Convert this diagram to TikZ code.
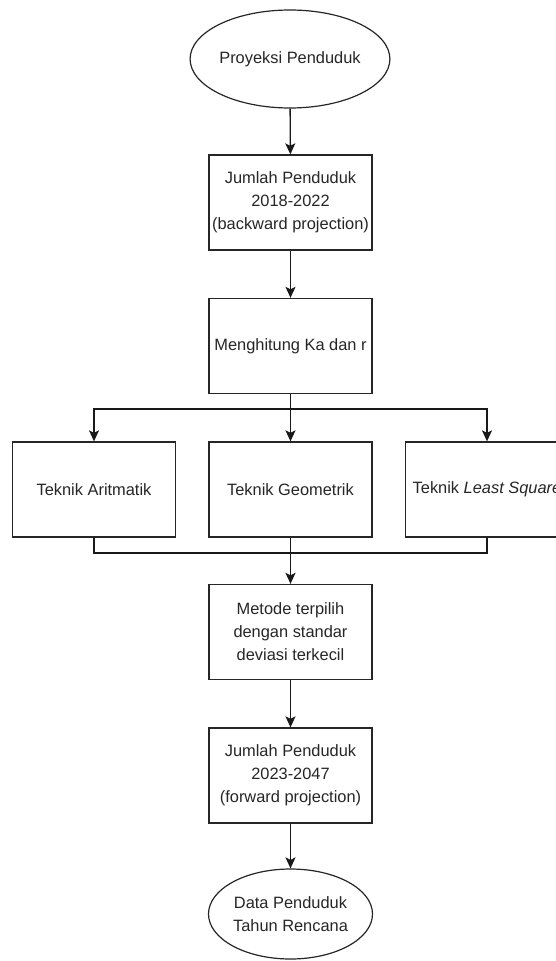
\documentclass[tikz,border=0pt]{standalone}
\usepackage{fontspec}
\setmainfont{Liberation Sans}
\usetikzlibrary{shapes.geometric,arrows.meta}
\begin{document}
\begin{tikzpicture}[x=1pt,y=-1pt,
  every node/.style={font=\fontsize{16.4}{23}\selectfont, align=center, text=black!85},
  terminal/.style={ellipse, draw=black!85, line width=1.2pt, minimum width=164pt, minimum height=98pt, inner sep=0pt},
  procbox/.style={rectangle, draw=black!85, line width=1.3pt, minimum width=163pt, minimum height=95pt, inner sep=0pt},
  link/.style={draw=black!90, line width=1.4pt},
  arrow/.style={link, -{Stealth[length=11pt,width=10pt,inset=2.5pt]}}]
\clip (0,0) rectangle (556,961);
\fill[white] (0,0) rectangle (556,961);

\node[terminal] (start) at (290,59) {Proyeksi Penduduk};
\node[procbox] (back) at (290.5,202.5) {Jumlah Penduduk\\2018-2022\\(backward projection)};
\node[procbox] (calc) at (290.5,346) {Menghitung Ka dan r};
\node[procbox] (ar) at (94,489.5) {Teknik Aritmatik};
\node[procbox] (geo) at (290.5,489.5) {Teknik Geometrik};
\node[procbox] (ls) at (487,489.5) {Teknik \textit{Least Square}};
\node[procbox] (met) at (290.5,632) {Metode terpilih\\dengan standar\\deviasi terkecil};
\node[procbox] (fwd) at (290.5,775.5) {Jumlah Penduduk\\2023-2047\\(forward projection)};
\node[terminal, minimum height=90pt] (end) at (290.5,914) {Data Penduduk\\Tahun Rencana};

\coordinate (split) at (290.5,409);
\coordinate (merge) at (290.5,553);

\draw[arrow] (start) -- (back);
\draw[arrow] (back) -- (calc);
\draw[arrow] (calc) -- (geo);
\draw[arrow] (split) -| (ar.north);
\draw[arrow] (split) -| (ls.north);
\draw[link] (ar.south) |- (merge);
\draw[link] (ls.south) |- (merge);
\draw[arrow] (geo) -- (met);
\draw[arrow] (met) -- (fwd);
\draw[arrow] (fwd) -- (end);
\end{tikzpicture}
\end{document}
